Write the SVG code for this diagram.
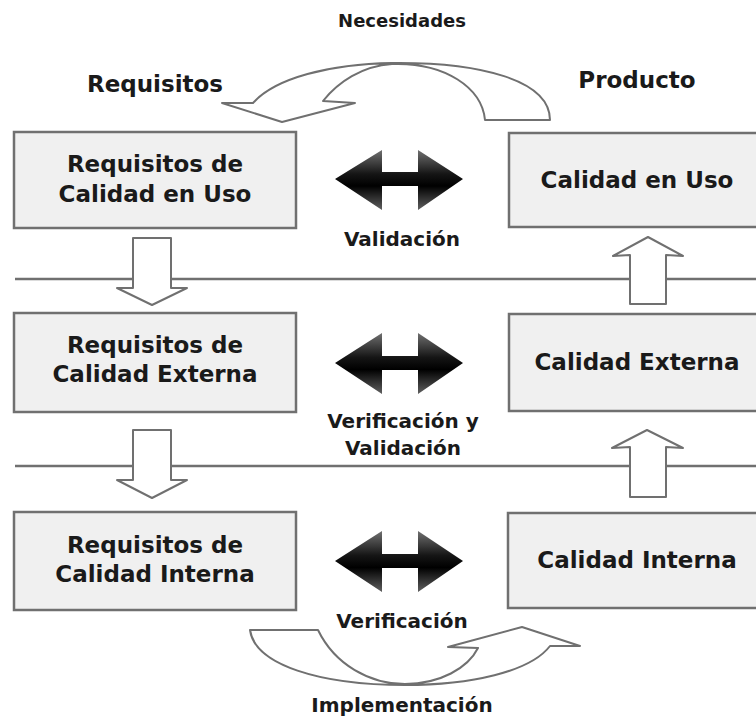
<svg xmlns="http://www.w3.org/2000/svg" width="756" height="719" viewBox="0 0 756 719">
<defs>
<linearGradient id="dg" x1="0" y1="0" x2="0" y2="1">
<stop offset="0" stop-color="#707070"/>
<stop offset="0.4" stop-color="#151515"/>
<stop offset="0.6" stop-color="#000"/>
<stop offset="1" stop-color="#606060"/>
</linearGradient>
<style>
.box{fill:#f0f0f0;stroke:#707070;stroke-width:2.5}
.t{font-family:"DejaVu Sans",Verdana,sans-serif;font-weight:bold;fill:#1a1a1a;text-anchor:middle}
.nt{font-size:23px}
.lb{font-size:20px}
.hl{stroke:#707070;stroke-width:2.5;fill:none}
.ba{fill:#fff;stroke:#707070;stroke-width:2;stroke-linejoin:round}
.da{fill:url(#dg)}
</style>
</defs>
<rect width="756" height="719" fill="#fff"/>

<g id="connectors">
<line class="hl" x1="15" y1="279" x2="756" y2="279"/>
<line class="hl" x1="15" y1="466" x2="756" y2="466"/>
<path class="ba" d="M133 238 L171 238 L171 288 L187 288 L152 305 L117 288 L133 288 Z"/>
<path class="ba" d="M133 430 L171 430 L171 480 L187 480 L152 498 L117 480 L133 480 Z"/>
<path class="ba" d="M630 304 L666 304 L666 255 L683 256 L648 237 L613 256 L630 255 Z"/>
<path class="ba" d="M630 497 L666 497 L666 447 L683 448 L647 430 L612 448 L630 447 Z"/>
<path class="da" d="M335 179 L382 150 L382 172 L418 172 L418 150 L463 179 L418 210 L418 186 L382 186 L382 210 Z"/>
<path class="da" d="M335 363 L382 333 L382 356 L418 356 L418 333 L463 363 L418 394 L418 370 L382 370 L382 394 Z"/>
<path class="da" d="M335 561 L382 531 L382 554 L418 554 L418 531 L463 561 L418 592 L418 568 L382 568 L382 592 Z"/>
<path class="ba" d="M550 120 C550 80 480 62 392 63 C330 64 275 78 253 103 L222 103 L282 122 L355 103 L323 101 C338 82 362 66 392 64 C445 62 482 88 485 120 Z"/>
<path class="ba" d="M250 630 L318 630 C335 665 370 684 405 684 C440 684 468 668 478 648 L448 647 L522 627 L580 646 L550 646 C530 672 470 685 405 685 C320 685 255 665 250 630 Z"/>
</g>

<g id="n-req-uso">
<rect class="box" x="14" y="132" width="282" height="96"/>
<text class="t nt" x="155" y="172">Requisitos de</text>
<text class="t nt" x="155" y="202">Calidad en Uso</text>
</g>
<g id="n-uso">
<rect class="box" x="509" y="133" width="260" height="94"/>
<text class="t nt" x="637" y="188">Calidad en Uso</text>
</g>
<g id="n-req-ext">
<rect class="box" x="14" y="313" width="282" height="99"/>
<text class="t nt" x="155" y="353">Requisitos de</text>
<text class="t nt" x="155" y="382">Calidad Externa</text>
</g>
<g id="n-ext">
<rect class="box" x="509" y="314" width="260" height="97"/>
<text class="t nt" x="637" y="370">Calidad Externa</text>
</g>
<g id="n-req-int">
<rect class="box" x="14" y="512" width="282" height="98"/>
<text class="t nt" x="155" y="553">Requisitos de</text>
<text class="t nt" x="155" y="582">Calidad Interna</text>
</g>
<g id="n-int">
<rect class="box" x="508" y="513" width="260" height="95"/>
<text class="t nt" x="637" y="568">Calidad Interna</text>
</g>

<g id="labels">
<text class="t" style="font-size:18px" x="402" y="27">Necesidades</text>
<text class="t nt" x="155" y="92">Requisitos</text>
<text class="t nt" x="637" y="88">Producto</text>
<text class="t lb" x="402" y="246">Validación</text>
<text class="t lb" x="403" y="428">Verificación y</text>
<text class="t lb" x="403" y="455">Validación</text>
<text class="t lb" x="402" y="628">Verificación</text>
<text class="t lb" x="402" y="712">Implementación</text>
</g>
</svg>
